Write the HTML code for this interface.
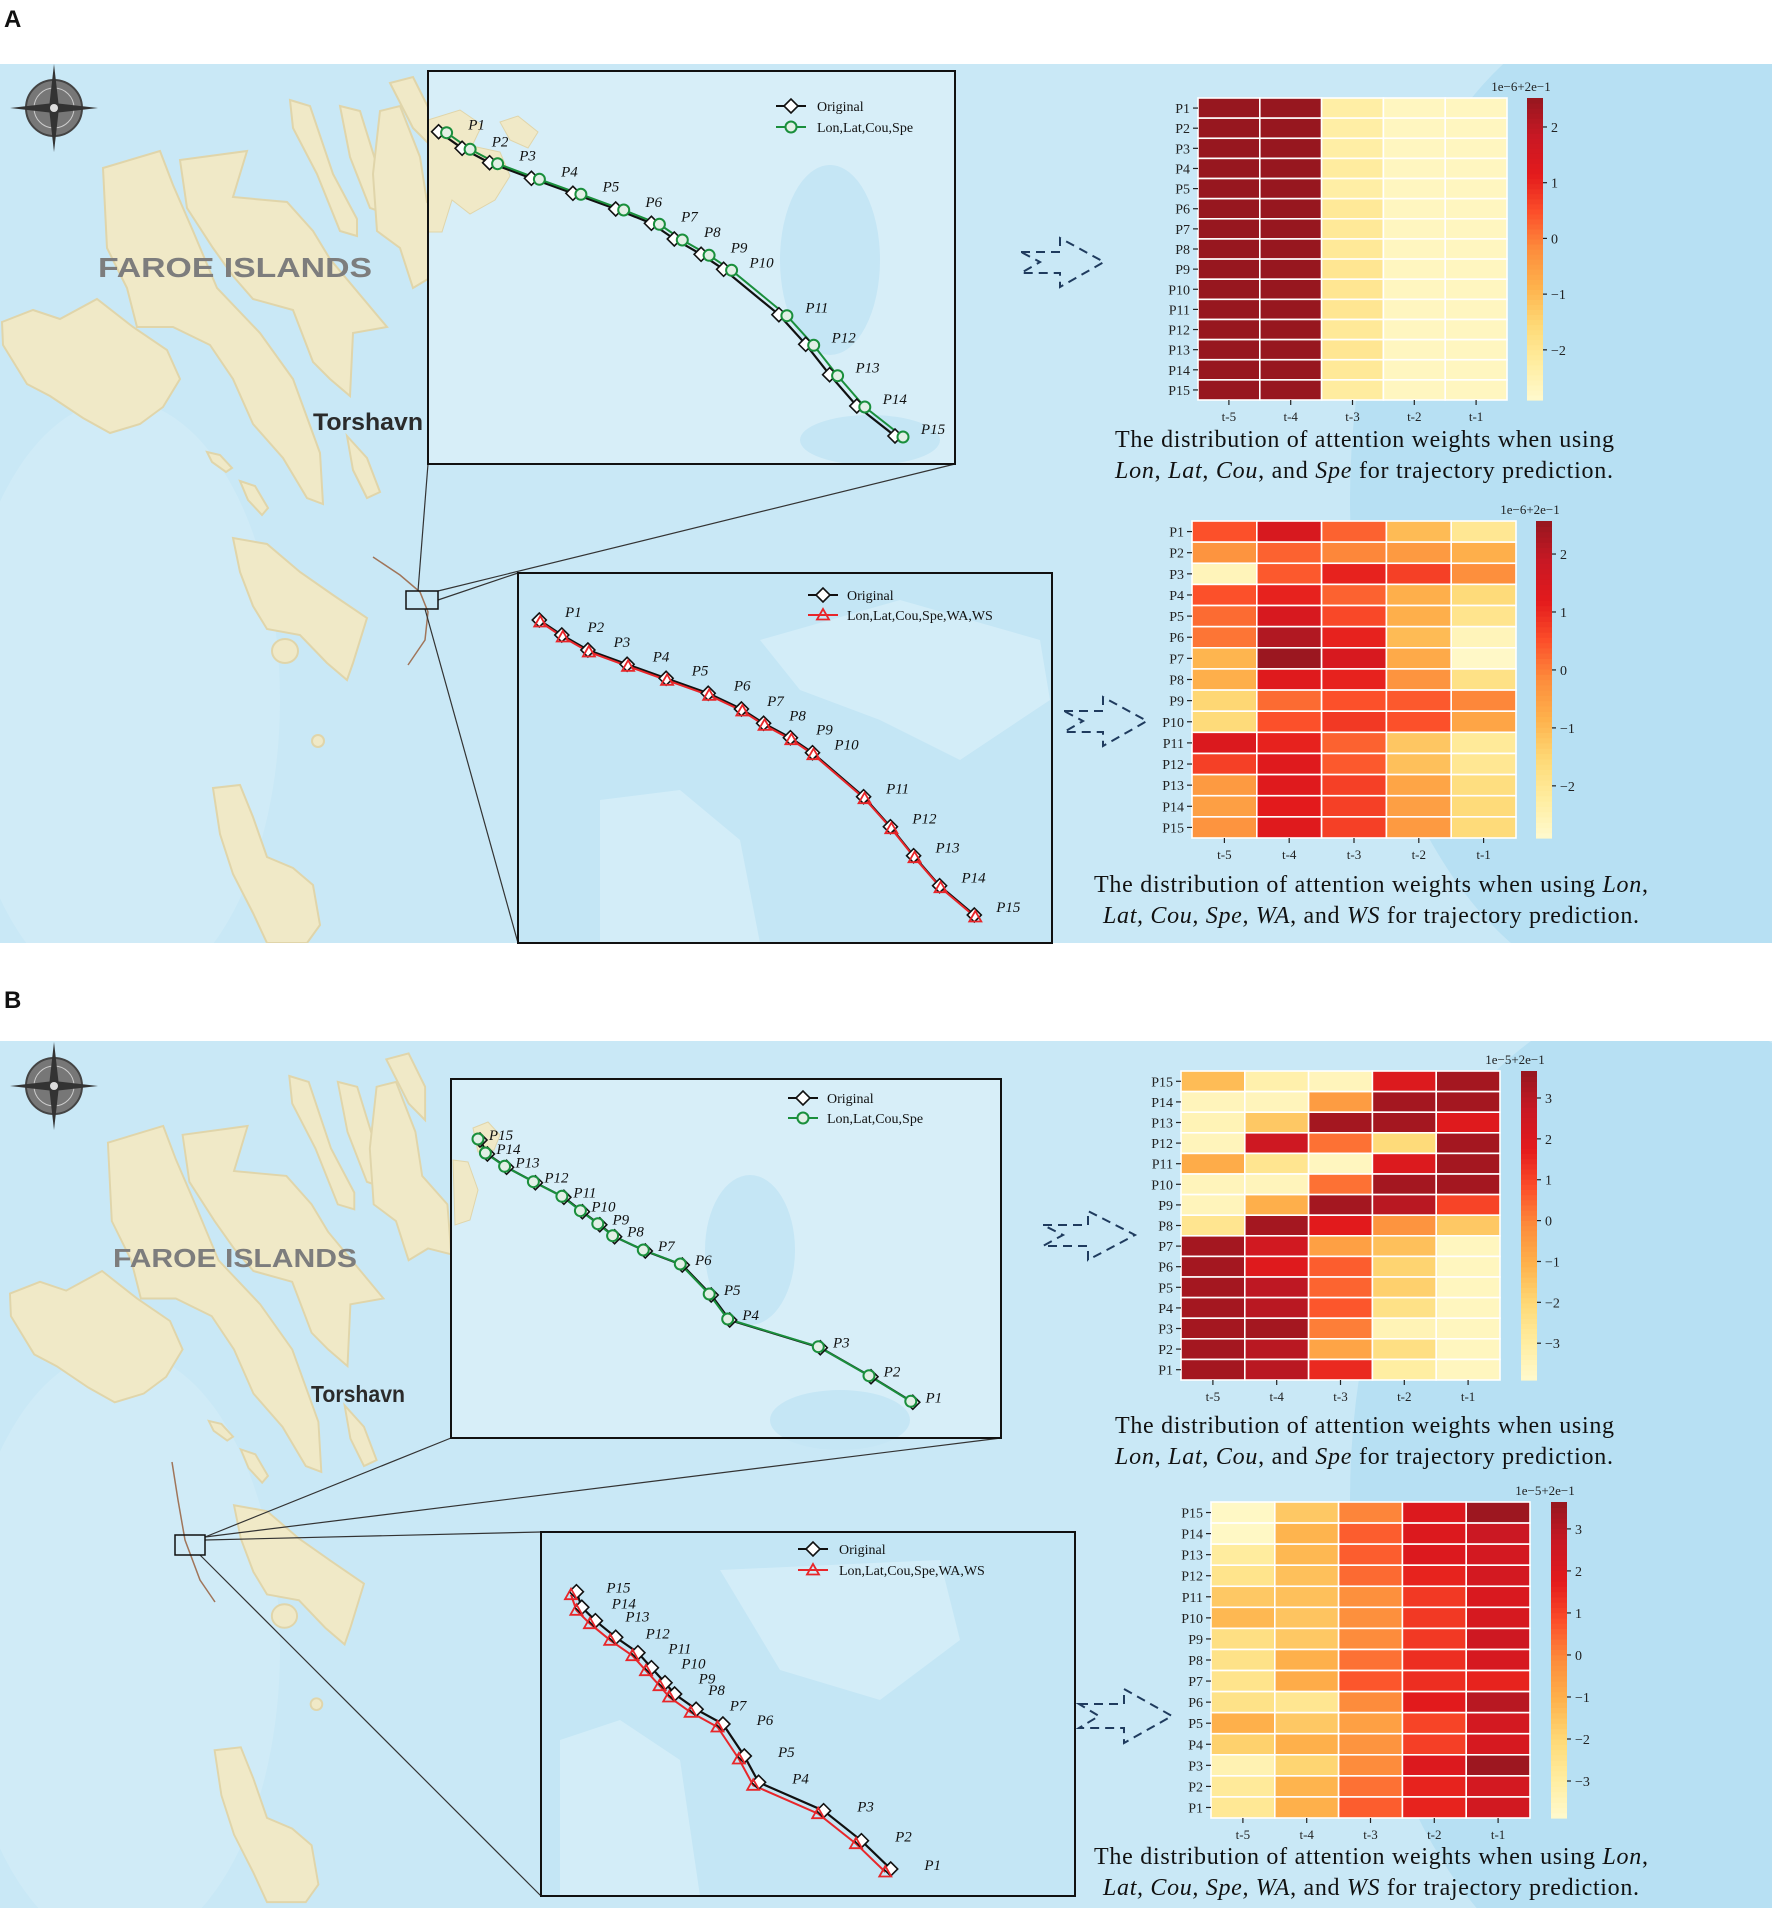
<!DOCTYPE html>
<html><head><meta charset="utf-8"><style>
html,body{margin:0;padding:0;background:#fff}
svg{display:block}
text{font-family:"Liberation Serif",serif}
.sans{font-family:"Liberation Sans",sans-serif}
</style></head><body>
<svg id="fig" width="1772" height="1918" viewBox="0 0 1772 1918" xmlns="http://www.w3.org/2000/svg">
<defs>
<clipPath id="clipA"><rect x="0" y="64" width="1772" height="879"/></clipPath>
<clipPath id="clipB"><rect x="0" y="1041" width="1772" height="867"/></clipPath>
<g id="land">
<polygon points="2,322 33,310 60,319 97,299 133,327 167,350 180,379 163,407 140,424 110,433 83,418 50,396 27,384 3,345"/>
<polygon points="103,168 160,151 173,185 193,231 217,288 260,333 293,379 320,453 323,504 307,498 283,458 253,424 233,379 210,345 173,327 137,327 127,288 107,248"/>
<polygon points="180,160 247,151 233,197 287,202 313,231 330,259 387,327 353,333 350,396 330,379 313,362 293,310 253,299 233,276 213,248 187,208"/>
<polygon points="290,100 310,106 333,174 357,219 357,236 340,231 317,174 293,128"/>
<polygon points="340,106 360,111 383,185 387,214 370,208 350,157"/>
<polygon points="380,111 400,106 420,157 427,202 453,231 457,282 433,276 413,288 400,248 377,231 373,174"/>
<polygon points="390,83 413,77 430,111 430,145 413,128"/>
<polygon points="347,436 367,458 380,492 367,498 353,470"/>
<polygon points="233,538 267,544 300,572 333,595 367,618 353,663 347,680 327,663 300,635 267,629 253,606 240,572"/>
<ellipse cx="285" cy="651" rx="13" ry="12"/>
<ellipse cx="318" cy="741" rx="6" ry="6"/>
<polygon points="207,452 220,455 232,468 226,472 212,462"/>
<polygon points="240,481 255,486 268,508 262,515 248,500"/>
<polygon points="213,788 240,785 253,817 267,857 293,868 313,885 320,925 307,943 267,943 253,913 233,874 220,834"/>
</g>
</defs>

<rect x="0" y="0" width="1772" height="1918" fill="#ffffff"/>
<text x="4" y="27" class="sans" font-size="24" font-weight="bold" fill="#111">A</text>
<text x="4" y="1008" class="sans" font-size="24" font-weight="bold" fill="#111">B</text>

<g clip-path="url(#clipA)">
<rect x="0" y="64" width="1772" height="879" fill="#c9e8f6"/>
<ellipse cx="1650" cy="500" rx="300" ry="500" fill="#b7e0f3"/>
<ellipse cx="120" cy="700" rx="160" ry="300" fill="#d0ebf7"/>
<use href="#land" fill="#f0e9c7" stroke="#e0d5aa" stroke-width="2"/>
</g>
<g clip-path="url(#clipB)">
<rect x="0" y="1041" width="1772" height="867" fill="#c9e8f6"/>
<ellipse cx="1650" cy="1500" rx="300" ry="500" fill="#b7e0f3"/>
<ellipse cx="120" cy="1650" rx="160" ry="300" fill="#d0ebf7"/>
<g transform="translate(8,978) scale(0.97,0.98)"><use href="#land" fill="#f0e9c7" stroke="#e0d5aa" stroke-width="2"/></g>
</g>

<g transform="translate(54,108)">
<circle r="28" fill="#777" stroke="#444" stroke-width="2"/><circle r="20" fill="none" stroke="#ccc" stroke-width="1"/>
<polygon points="0,-44 5,0 0,44 -5,0" fill="#333"/><polygon points="-44,0 0,5 44,0 0,-5" fill="#333"/>
<circle r="4" fill="#ddd"/>
</g>
<g transform="translate(54,1086)">
<circle r="28" fill="#777" stroke="#444" stroke-width="2"/><circle r="20" fill="none" stroke="#ccc" stroke-width="1"/>
<polygon points="0,-44 5,0 0,44 -5,0" fill="#333"/><polygon points="-44,0 0,5 44,0 0,-5" fill="#333"/>
<circle r="4" fill="#ddd"/>
</g>

<text x="98" y="277" class="sans" font-size="28" font-weight="bold" fill="#7d7d7d" textLength="274" lengthAdjust="spacingAndGlyphs">FAROE ISLANDS</text>
<text x="313" y="430" class="sans" font-size="24" font-weight="bold" fill="#2b2b2b" textLength="110" lengthAdjust="spacingAndGlyphs">Torshavn</text>
<text x="113" y="1267" class="sans" font-size="26" font-weight="bold" fill="#7d7d7d" textLength="244" lengthAdjust="spacingAndGlyphs">FAROE ISLANDS</text>
<text x="311" y="1402" class="sans" font-size="23" font-weight="bold" fill="#2b2b2b" textLength="94" lengthAdjust="spacingAndGlyphs">Torshavn</text>

<polyline points="373,557 400,575 420,592 428,612 425,640 408,665" fill="none" stroke="#a0755a" stroke-width="1.5"/>
<polyline points="172,1462 178,1500 185,1540 200,1580 215,1602" fill="none" stroke="#a0755a" stroke-width="1.5"/>

<g stroke="#333" stroke-width="1.2" fill="none">
<line x1="418" y1="591" x2="428" y2="464"/><line x1="438" y1="591" x2="955" y2="464"/>
<line x1="438" y1="600" x2="518" y2="573"/><line x1="425" y1="609" x2="518" y2="943"/>
</g>
<g stroke="#333" stroke-width="1.2" fill="none">
<line x1="205" y1="1537" x2="451" y2="1438"/><line x1="205" y1="1537" x2="1001" y2="1438"/>
<line x1="205" y1="1540" x2="541" y2="1532"/><line x1="200" y1="1555" x2="541" y2="1896"/>
</g>
<rect x="406" y="591" width="32" height="18" fill="none" stroke="#111" stroke-width="1.5"/>
<rect x="175" y="1535" width="30" height="20" fill="none" stroke="#111" stroke-width="1.5"/>

<g>
<rect x="428" y="71" width="527" height="393" fill="#d7eef8"/>
<ellipse cx="830" cy="260" rx="50" ry="95" fill="#c5e6f5"/>
<ellipse cx="870" cy="440" rx="70" ry="25" fill="#c5e6f5"/>
<polygon points="428,120 460,110 482,125 472,146 500,152 510,176 495,200 470,214 452,200 442,232 428,232" fill="#f0e9c7" stroke="#e0d5aa"/>
<polygon points="500,122 518,116 538,132 528,148 510,140" fill="#f0e9c7" stroke="#e0d5aa"/>
</g>
<g>
<rect x="518" y="573" width="534" height="370" fill="#c4e6f5"/>
<polygon points="760,640 900,600 1040,640 1050,700 960,760 880,720 800,690" fill="#d3edf8"/>
<polygon points="600,800 680,790 740,840 760,943 600,943" fill="#d3edf8"/>
</g>
<g>
<rect x="451" y="1079" width="550" height="359" fill="#d7eef8"/>
<ellipse cx="750" cy="1250" rx="45" ry="75" fill="#c5e6f5"/>
<ellipse cx="840" cy="1420" rx="70" ry="30" fill="#c5e6f5"/>
<polygon points="473,1128 488,1122 500,1135 494,1150 478,1152" fill="#f0e9c7" stroke="#e0d5aa"/>
<polygon points="453,1160 468,1162 478,1190 470,1220 455,1225" fill="#f0e9c7" stroke="#e0d5aa"/>
</g>
<g>
<rect x="541" y="1532" width="534" height="364" fill="#c4e6f5"/>
<polygon points="720,1570 940,1560 960,1640 880,1700 780,1670" fill="#d3edf8"/>
<polygon points="560,1740 620,1720 680,1760 700,1896 560,1896" fill="#d3edf8"/>
</g>

<g id="trajLayer"></g>

<rect x="428" y="71" width="527" height="393" fill="none" stroke="#111" stroke-width="2"/>
<rect x="518" y="573" width="534" height="370" fill="none" stroke="#111" stroke-width="2"/>
<rect x="451" y="1079" width="550" height="359" fill="none" stroke="#111" stroke-width="2"/>
<rect x="541" y="1532" width="534" height="364" fill="none" stroke="#111" stroke-width="2"/>

<g fill="none" stroke="#1f3b5e" stroke-width="2" stroke-dasharray="9,6">
<polygon points="1021,252 1060,252 1060,238 1104,262 1060,287 1060,273 1021,273 1040,262"/>
<polygon points="1064,711 1103,711 1103,697 1147,721 1103,746 1103,732 1064,732 1083,721"/>
<polygon points="1043,1225 1088,1225 1088,1211 1135,1235 1088,1260 1088,1246 1043,1246 1063,1235"/>
<polygon points="1079,1704 1124,1704 1124,1689 1172,1716 1124,1743 1124,1728 1079,1728 1099,1716"/>
</g>

<g id="heatLayer"></g>

<g font-size="24" fill="#111">
<text x="1115" y="447" textLength="499">The distribution of attention weights when using</text>
<text x="1115" y="478" textLength="498"><tspan font-style="italic">Lon</tspan>, <tspan font-style="italic">Lat</tspan>, <tspan font-style="italic">Cou</tspan>, and <tspan font-style="italic">Spe</tspan> for trajectory  prediction.</text>
<text x="1094" y="892" textLength="554">The distribution of attention weights when using <tspan font-style="italic">Lon</tspan>,</text>
<text x="1103" y="923" textLength="536"><tspan font-style="italic">Lat, Cou, Spe, WA</tspan>, and <tspan font-style="italic">WS</tspan> for trajectory  prediction.</text>
<text x="1115" y="1433" textLength="499">The distribution of attention weights when using</text>
<text x="1115" y="1464" textLength="498"><tspan font-style="italic">Lon</tspan>, <tspan font-style="italic">Lat</tspan>, <tspan font-style="italic">Cou</tspan>, and <tspan font-style="italic">Spe</tspan> for trajectory  prediction.</text>
<text x="1094" y="1864" textLength="554">The distribution of attention weights when using <tspan font-style="italic">Lon</tspan>,</text>
<text x="1103" y="1895" textLength="536"><tspan font-style="italic">Lat, Cou, Spe, WA</tspan>, and <tspan font-style="italic">WS</tspan> for trajectory  prediction.</text>
</g>
</svg>

<script>
const timeSteps = ["t-5","t-4","t-3","t-2","t-1"];
const pointsAsc = ["P1","P2","P3","P4","P5","P6","P7","P8","P9","P10","P11","P12","P13","P14","P15"];
const pointsDesc = ["P15","P14","P13","P12","P11","P10","P9","P8","P7","P6","P5","P4","P3","P2","P1"];
const ticksA = [-2,-1,0,1,2];
const ticksB = [-3,-2,-1,0,1,2,3];
const rangeA1 = [-2.9, 2.52];
const rangeA2 = [-2.9, 2.57];
const rangeB1 = [-3.9, 3.66];
const rangeB2 = [-3.88, 3.64];
const valuesA1 = [
[2.5,2.5,-2.3,-2.7,-2.7],[2.5,2.5,-2.3,-2.7,-2.7],[2.5,2.5,-2.3,-2.7,-2.7],[2.5,2.5,-2.2,-2.7,-2.7],
[2.5,2.5,-2.3,-2.7,-2.7],[2.5,2.5,-2.1,-2.7,-2.7],[2.5,2.5,-2.1,-2.7,-2.7],[2.5,2.5,-2.1,-2.7,-2.7],
[2.5,2.5,-2.0,-2.7,-2.7],[2.5,2.5,-2.0,-2.7,-2.7],[2.5,2.5,-2.0,-2.7,-2.7],[2.5,2.5,-2.1,-2.7,-2.7],
[2.5,2.5,-2.0,-2.7,-2.7],[2.5,2.5,-2.1,-2.7,-2.7],[2.5,2.5,-2.2,-2.7,-2.7]];
const valuesA2 = [
[0.5,1.5,0.3,-1.0,-2.0],[-0.3,0.3,-0.1,-0.4,-0.8],[-2.6,0.4,1.1,0.7,-0.2],[0.5,1.1,0.3,-0.8,-1.6],
[0.2,1.5,0.6,-0.8,-1.9],[0.1,2.2,1.1,-1.0,-2.6],[-0.9,2.5,1.5,-0.7,-2.8],[-0.8,1.3,1.1,-0.3,-1.8],
[-1.5,0.2,0.5,0.4,-0.1],[-1.6,0.5,0.8,0.5,-0.6],[1.4,1.1,0.3,-1.2,-2.1],[0.7,1.3,0.4,-1.1,-2.0],
[-0.4,1.3,0.7,-0.6,-1.7],[-0.5,1.2,0.7,-0.5,-1.6],[-0.3,1.3,0.7,-0.4,-1.6]];
const valuesB1 = [
[-1.3,-3.2,-3.5,2.0,3.4],[-3.5,-3.5,-0.5,3.4,3.4],[-3.4,-1.6,3.4,3.4,1.9],[-3.5,2.5,0.3,-2.1,3.4],
[-0.9,-2.6,-3.6,2.0,3.4],[-3.5,-3.5,0.3,3.4,3.4],[-3.5,-1.0,3.4,3.0,1.0],[-2.6,3.4,1.8,-0.3,-1.6],
[3.4,2.4,-0.6,-1.4,-3.6],[3.4,1.9,0.6,-1.9,-3.6],[3.4,2.9,0.5,-1.8,-3.6],[3.4,3.0,0.7,-2.4,-3.6],
[3.4,3.4,0.1,-3.4,-3.6],[3.4,3.0,-0.7,-2.3,-3.6],[3.4,3.0,1.5,-3.0,-3.6]];
const valuesB2 = [
[-3.7,-1.6,0.0,2.0,3.5],[-3.7,-1.1,0.6,2.0,2.6],[-2.9,-1.2,0.6,2.0,2.3],[-2.5,-1.4,0.4,1.6,2.3],
[-1.6,-1.4,-0.2,1.2,2.1],[-1.2,-1.5,-0.2,1.2,2.2],[-2.3,-1.6,-0.1,1.2,2.5],[-2.4,-1.0,0.3,1.4,2.2],
[-2.5,-0.9,0.7,1.4,1.6],[-2.4,-2.6,-0.1,1.8,3.0],[-1.0,-1.6,-0.6,1.0,2.3],[-1.8,-1.0,-0.3,1.1,2.2],
[-3.3,-1.9,-0.1,2.0,3.5],[-2.8,-1.1,0.3,1.6,2.3],[-2.7,-1.0,0.6,1.6,2.4]];

const aTopOrigX = [10.6,34.1,61.6,103.4,144.9,187.7,223.4,246.3,273.1,295.6,350.9,377.7,401.6,428.8,467];
const aTopOrigY = [60.7,77.3,91.7,107.3,122.3,138,152.3,168,183.3,198.3,243.7,273.3,303.7,335,365];
const aTopPredX = [18.6,42.1,69.6,111.4,152.9,195.7,231.4,254.3,281.1,303.6,358.9,385.7,409.6,436.8,475];
const aTopPredY = [61.7,78.3,92.7,108.3,123.3,139,153.3,169,184.3,199.3,244.7,274.3,304.7,336,366];
const aBotOrigX = [21.3,43.8,69.9,109.1,148.1,190.2,223.4,245.6,272.4,294.5,345.6,372.4,395.6,421.6,456.3];
const aBotOrigY = [47,62,77,91.3,105.3,120.3,136,150.3,164.7,179.7,223.7,253.7,282.7,312.7,342];
const aBotPredX = [22.3,44.8,70.9,110.1,149.1,191.2,224.4,246.6,273.4,295.5,346.6,373.4,396.6,422.6,457.3];
const aBotPredY = [49,64,79,93.3,107.3,122.3,138,152.3,166.7,181.7,225.7,255.7,284.7,314.7,344];
const bTopOrigX = [461.8,420,369.3,278.7,260.2,231.3,194.3,163.6,148.8,131.4,112.9,84.4,55.6,36.4,29];
const bTopOrigY = [323.3,297.7,268.7,241,216,186,172,157.7,145.7,132.7,118.3,103.7,88.3,75,61];
const bTopPredX = [459.8,418,367.3,276.7,258.2,229.3,192.3,161.6,146.8,129.4,110.9,82.4,53.6,34.4,27];
const bTopPredY = [322.3,296.7,267.7,240,215,185,171,156.7,144.7,131.7,117.3,102.7,87.3,74,60];
const bBotOrigX = [349.7,320.4,282.6,217.6,203.3,181.9,155.1,133.6,124,110.4,96.9,74.7,54.4,40.8,35.4];
const bBotOrigY = [337,308.7,278.7,250.3,224,192,177.3,162,150.7,135.7,120.7,105.3,88.7,75.3,59.7];
const bBotPredX = [344.3,315,277.2,212.2,197.9,176.5,149.7,128.2,118.6,105,91.5,69.3,49,35.4,30];
const bBotPredY = [340,311.7,281.7,253.3,227,195,180.3,165,153.7,138.7,123.7,108.3,91.7,78.3,62.7];
const labelsP = ["P1","P2","P3","P4","P5","P6","P7","P8","P9","P10","P11","P12","P13","P14","P15"];

const NS = "http://www.w3.org/2000/svg";
function mk(tag, attrs, parent){
  const e = document.createElementNS(NS, tag);
  for (const k in attrs) e.setAttribute(k, attrs[k]);
  parent.appendChild(e);
  return e;
}
const cmapStops = [[255,250,206],[255,237,160],[254,217,118],[254,178,76],[253,141,60],[252,78,42],[227,26,28],[200,24,36],[150,23,31]];
function cmap(t){
  t = Math.max(0, Math.min(1, t));
  const p = t*(cmapStops.length-1), i = Math.min(Math.floor(p), cmapStops.length-2), f = p-i;
  const a = cmapStops[i], b = cmapStops[i+1];
  return "rgb(" + a.map((v,k)=>Math.round(v+(b[k]-v)*f)).join(",") + ")";
}

const heat = document.getElementById("heatLayer");
function drawHeat(id, vals, rows, range, ticks, geo, expLabel){
  const g = mk("g", {}, heat);
  
  
  const nR = rows.length, nC = timeSteps.length;
  const cw = (geo.x1-geo.x0)/nC, ch = (geo.y1-geo.y0)/nR;
  const xScale = c => geo.x0 + c*cw;
  const yScale = r => geo.y0 + r*ch;
  const norm = v => (v - range[0])/(range[1]-range[0]);
  for (let r=0;r<nR;r++){
    for (let c=0;c<nC;c++){
      const cell = mk("rect", {x:xScale(c), y:yScale(r), width:cw, height:ch, fill:cmap(norm(vals[r][c])), stroke:"#fff", "stroke-width":1.6}, g);
      
      
    }
    mk("line", {x1:geo.x0-5, x2:geo.x0, y1:yScale(r)+ch/2, y2:yScale(r)+ch/2, stroke:"#222", "stroke-width":1.2}, g);
    const lab = mk("text", {x:geo.x0-8, y:yScale(r)+ch/2+5, "font-size":14, "text-anchor":"end", fill:"#222"}, g);
    lab.textContent = rows[r];
    
    
  }
  for (let c=0;c<nC;c++){
    mk("line", {x1:xScale(c)+cw/2, x2:xScale(c)+cw/2, y1:geo.y1, y2:geo.y1+5, stroke:"#222", "stroke-width":1.2}, g);
    const lab = mk("text", {x:xScale(c)+cw/2, y:geo.y1+21, "font-size":13, "text-anchor":"middle", fill:"#222"}, g);
    lab.textContent = timeSteps[c];
    
    
  }
  const cbH = geo.y1-geo.y0, n = 60;
  const cbScale = v => geo.y1 - (v-range[0])/(range[1]-range[0])*cbH;
  const cb = mk("g", {}, g);
  
  
  for (let i=0;i<n;i++){
    mk("rect", {x:geo.cb0, y:geo.y1-(i+1)*cbH/n, width:geo.cb1-geo.cb0, height:cbH/n+0.6, fill:cmap((i+0.5)/n)}, cb);
  }
  ticks.forEach(t=>{
    const y = cbScale(t);
    mk("line", {x1:geo.cb1, x2:geo.cb1+4, y1:y, y2:y, stroke:"#222", "stroke-width":1.2}, cb);
    const tl = mk("text", {x:geo.cb1+8, y:y+5, "font-size":14, fill:"#222"}, cb);
    tl.textContent = t < 0 ? "\u2212" + Math.abs(t) : String(t);
    
    
  });
  const ex = mk("text", {x:geo.cb0+ (geo.cb1-geo.cb0)/2 - 14, y:geo.y0-7, "font-size":13, "text-anchor":"middle", fill:"#222"}, g);
  ex.textContent = expLabel;
  
  
}
drawHeat("heatmap-a-top", valuesA1, pointsAsc, rangeA1, ticksA, {x0:1198,x1:1507,y0:98,y1:400,cb0:1527,cb1:1543}, "1e\u22126+2e\u22121");
drawHeat("heatmap-a-bottom", valuesA2, pointsAsc, rangeA2, ticksA, {x0:1192,x1:1516,y0:521,y1:838,cb0:1536,cb1:1552}, "1e\u22126+2e\u22121");
drawHeat("heatmap-b-top", valuesB1, pointsDesc, rangeB1, ticksB, {x0:1181,x1:1500,y0:1071,y1:1380,cb0:1521,cb1:1537}, "1e\u22125+2e\u22121");
drawHeat("heatmap-b-bottom", valuesB2, pointsDesc, rangeB2, ticksB, {x0:1211,x1:1530,y0:1502,y1:1818,cb0:1551,cb1:1567}, "1e\u22125+2e\u22121");

const traj = document.getElementById("trajLayer");
function diamond(x,y,s){ return (x-s)+","+y+" "+x+","+(y-s)+" "+(x+s)+","+y+" "+x+","+(y+s); }
function tri(x,y,s){ return (x)+","+(y-s)+" "+(x+s)+","+(y+s*0.75)+" "+(x-s)+","+(y+s*0.75); }
function drawTraj(id, box, ox, oy, px, py, kind, lab, legendPos, predName){
  const g = mk("g", {}, traj);
  
  
  const xScale = v => box.x + v, yScale = v => box.y + v;
  const col = kind === "circle" ? "#1a8f3c" : "#e8262a";
  mk("polyline", {points: ox.map((v,i)=>xScale(v)+","+yScale(oy[i])).join(" "), fill:"none", stroke:"#111", "stroke-width":2.2}, g);
  mk("polyline", {points: px.map((v,i)=>xScale(v)+","+yScale(py[i])).join(" "), fill:"none", stroke:col, "stroke-width":2}, g);
  ox.forEach((v,i)=>{
    const d = mk("polygon", {points: diamond(xScale(v), yScale(oy[i]), 7), fill:"#fff", stroke:"#111", "stroke-width":1.6}, g);
    
    
  });
  px.forEach((v,i)=>{
    let m;
    if (kind === "circle") m = mk("circle", {cx:xScale(v), cy:yScale(py[i]), r:5.5, fill:"#e2efe6", stroke:col, "stroke-width":2}, g);
    else m = mk("polygon", {points: tri(xScale(v), yScale(py[i]), 6), fill:"none", stroke:col, "stroke-width":1.8}, g);
    
    
  });
  ox.forEach((v,i)=>{
    const t = mk("text", {x:xScale(v)+lab.dx, y:yScale(oy[i])+lab.dy, "font-size":15, "font-style":"italic", "text-anchor":"middle", fill:"#111"}, g);
    t.textContent = labelsP[i];
    
    
  });
  const lg = mk("g", {}, g);
  
  
  const L = legendPos;
  mk("line", {x1:L.x, x2:L.x+30, y1:L.y1, y2:L.y1, stroke:"#111", "stroke-width":2}, lg);
  mk("polygon", {points: diamond(L.x+15, L.y1, 7), fill:"#fff", stroke:"#111", "stroke-width":1.6}, lg);
  const t1 = mk("text", {x:L.tx, y:L.y1+5, "font-size":14, fill:"#111"}, lg);
  t1.textContent = "Original";
  
  
  mk("line", {x1:L.x, x2:L.x+30, y1:L.y2, y2:L.y2, stroke:col, "stroke-width":2}, lg);
  if (kind === "circle") mk("circle", {cx:L.x+15, cy:L.y2, r:5.5, fill:"#e2efe6", stroke:col, "stroke-width":2}, lg);
  else mk("polygon", {points: tri(L.x+15, L.y2, 6), fill:"none", stroke:col, "stroke-width":1.8}, lg);
  const t2 = mk("text", {x:L.tx, y:L.y2+5, "font-size":14, fill:"#111"}, lg);
  t2.textContent = predName;
  
  
}
drawTraj("trajectory-a-top", {x:428,y:71}, aTopOrigX, aTopOrigY, aTopPredX, aTopPredY, "circle", {dx:38,dy:-2}, {x:776,y1:106,y2:127,tx:817}, "Lon,Lat,Cou,Spe");
drawTraj("trajectory-a-bottom", {x:518,y:573}, aBotOrigX, aBotOrigY, aBotPredX, aBotPredY, "triangle", {dx:34,dy:-3}, {x:808,y1:595,y2:615,tx:847}, "Lon,Lat,Cou,Spe,WA,WS");
drawTraj("trajectory-b-top", {x:451,y:1079}, bTopOrigX, bTopOrigY, bTopPredX, bTopPredY, "circle", {dx:21,dy:0}, {x:788,y1:1098,y2:1118,tx:827}, "Lon,Lat,Cou,Spe");
drawTraj("trajectory-b-bottom", {x:541,y:1532}, bBotOrigX, bBotOrigY, bBotPredX, bBotPredY, "triangle", {dx:42,dy:1}, {x:798,y1:1549,y2:1570,tx:839}, "Lon,Lat,Cou,Spe,WA,WS");
</script>
</body></html>
